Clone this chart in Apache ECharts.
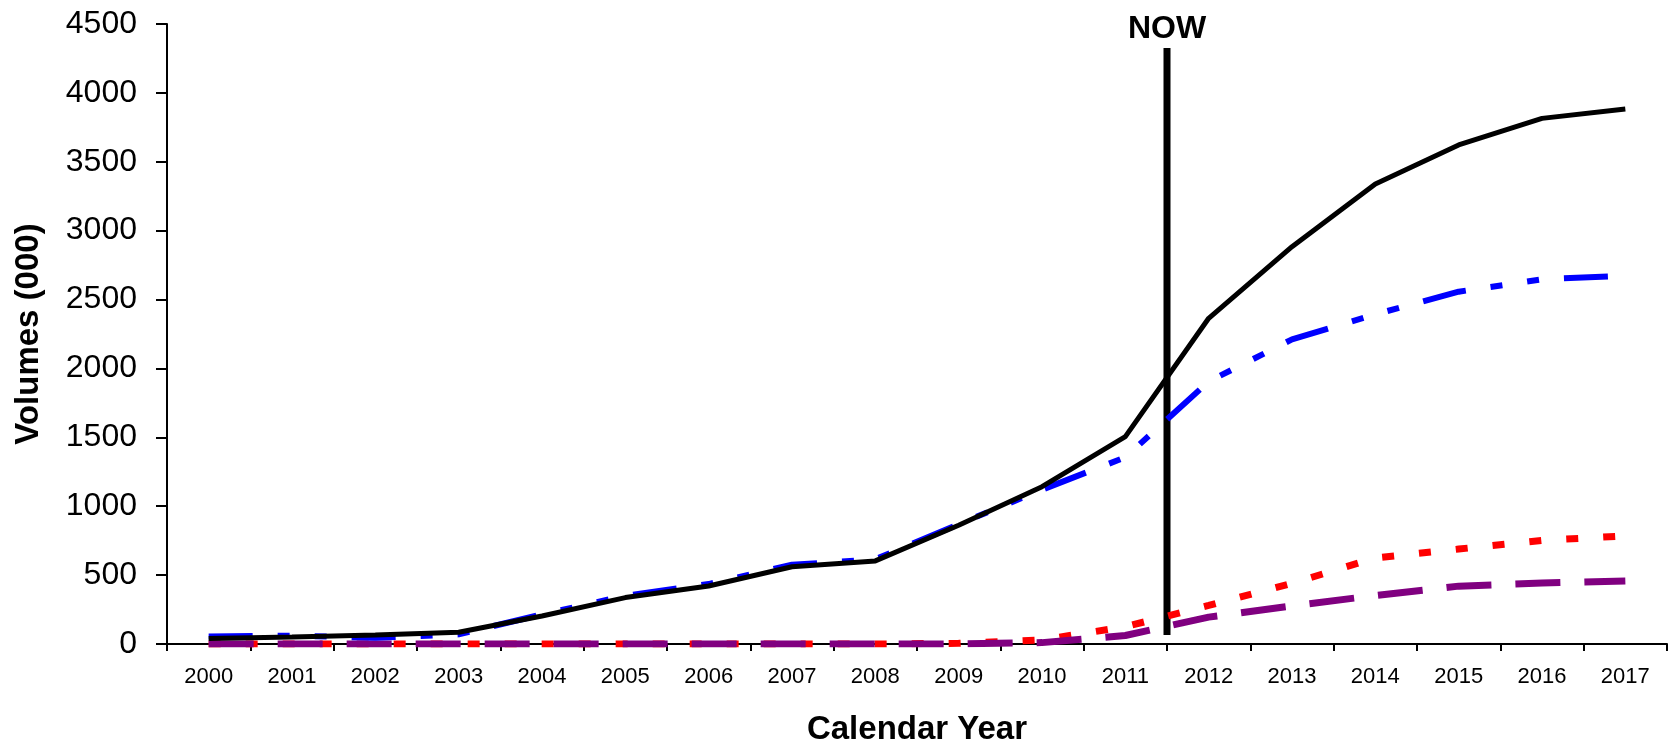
<!DOCTYPE html>
<html>
<head>
<meta charset="utf-8">
<title>Volumes by Calendar Year</title>
<script src="https://cdn.jsdelivr.net/npm/echarts@6/dist/echarts.min.js"></script>
<style>
  html, body { margin: 0; padding: 0; background: #ffffff; }
  #chart { width: 1668px; height: 741px; }
</style>
</head>
<body>
<div id="chart"></div>
<script>
// Calendar years on the category axis
const years = ['2000', '2001', '2002', '2003', '2004', '2005', '2006', '2007', '2008',
               '2009', '2010', '2011', '2012', '2013', '2014', '2015', '2016', '2017'];

// Volumes (000) per year
const totalVolumes  = [40, 50, 65, 85, 203, 337, 421, 561, 603, 862, 1142, 1505, 2364, 2884, 3339, 3622, 3815, 3883];
const blueVolumes   = [55, 60, 45, 70, 215, 350, 435, 575, 615, 870, 1120, 1355, 1905, 2211, 2393, 2557, 2647, 2673];
const redVolumes    = [0, 0, 0, 0, 0, 0, 0, 0, 0, 5, 30, 125, 280, 440, 625, 689, 752, 785];
const purpleVolumes = [0, 0, 0, 0, 0, 0, 0, 0, 0, 0, 10, 62, 195, 277, 352, 420, 442, 458];

// Value-axis ticks
const yTicks = { min: 0, max: 4500, step: 500 };

// "NOW" divider: sits on the boundary before 2012 (category slot 12 of 18)
const nowLabel = 'NOW';
const nowSlot = 12;
const nowSpan = [65, 4326];

const FONT = '"Liberation Sans", Arial, Helvetica, sans-serif';

const chart = echarts.init(document.getElementById('chart'), null, { renderer: 'canvas' });

chart.setOption({
  animation: false,
  backgroundColor: '#ffffff',
  grid: { left: 167, right: 1, top: 24, bottom: 97, containLabel: false, outerBoundsMode: 'none' },
  xAxis: [
    {
      type: 'category',
      data: years,
      boundaryGap: true,
      name: 'Calendar Year',
      nameLocation: 'middle',
      nameGap: 69,
      nameTextStyle: { fontFamily: FONT, fontWeight: 'bold', fontSize: 33, color: '#000' },
      axisLine: { show: true, lineStyle: { color: '#000', width: 2 } },
      axisTick: { show: true, inside: false, length: 7, alignWithLabel: false, lineStyle: { color: '#000', width: 2 } },
      axisLabel: { fontFamily: FONT, fontSize: 22, color: '#000', margin: 22, interval: 0 },
      splitLine: { show: false }
    },
    {
      // hidden linear axis spanning the 18 category slots, used to place the divider
      type: 'value',
      min: 0,
      max: years.length,
      show: false,
      position: 'bottom'
    }
  ],
  yAxis: {
    type: 'value',
    min: yTicks.min,
    max: yTicks.max,
    interval: yTicks.step,
    name: 'Volumes (000)',
    nameLocation: 'middle',
    nameGap: 122,
    nameRotate: 90,
    nameTextStyle: { fontFamily: FONT, fontWeight: 'bold', fontSize: 33, color: '#000' },
    axisLine: { show: true, lineStyle: { color: '#000', width: 2 } },
    axisTick: { show: true, inside: false, length: 11, lineStyle: { color: '#000', width: 2 } },
    axisLabel: {
      fontFamily: FONT, fontSize: 32, color: '#000', margin: 30,
      formatter: function (v) { return String(v); }
    },
    splitLine: { show: false }
  },
  series: [
    {
      name: nowLabel,
      type: 'line',
      xAxisIndex: 1,
      data: [[nowSlot, nowSpan[0]], [nowSlot, nowSpan[1]]],
      symbol: 'none',
      silent: true,
      lineStyle: { color: '#000', width: 7, type: 'solid', cap: 'butt' },
      markPoint: {
        silent: true,
        symbol: 'circle',
        symbolSize: 0,
        data: [{ coord: [nowSlot, nowSpan[1]] }],
        label: {
          show: true,
          position: 'top',
          distance: 3,
          formatter: nowLabel,
          fontFamily: FONT,
          fontWeight: 'bold',
          fontSize: 32,
          color: '#000'
        }
      },
      z: 1
    },
    {
      name: 'Red',
      type: 'line',
      data: redVolumes,
      symbol: 'none',
      lineStyle: { color: '#ff0000', width: 7, type: [12, 25], cap: 'butt' },
      z: 2
    },
    {
      name: 'Purple',
      type: 'line',
      data: purpleVolumes,
      symbol: 'none',
      lineStyle: { color: '#800080', width: 7, type: [45, 24], cap: 'butt' },
      z: 3
    },
    {
      name: 'Blue',
      type: 'line',
      data: blueVolumes,
      symbol: 'none',
      lineStyle: { color: '#0000ff', width: 6, type: [44, 25, 12, 25, 12, 25], cap: 'butt' },
      z: 4
    },
    {
      name: 'Total',
      type: 'line',
      data: totalVolumes,
      symbol: 'none',
      lineStyle: { color: '#000000', width: 5, type: 'solid' },
      z: 5
    }
  ]
});
</script>
</body>
</html>
